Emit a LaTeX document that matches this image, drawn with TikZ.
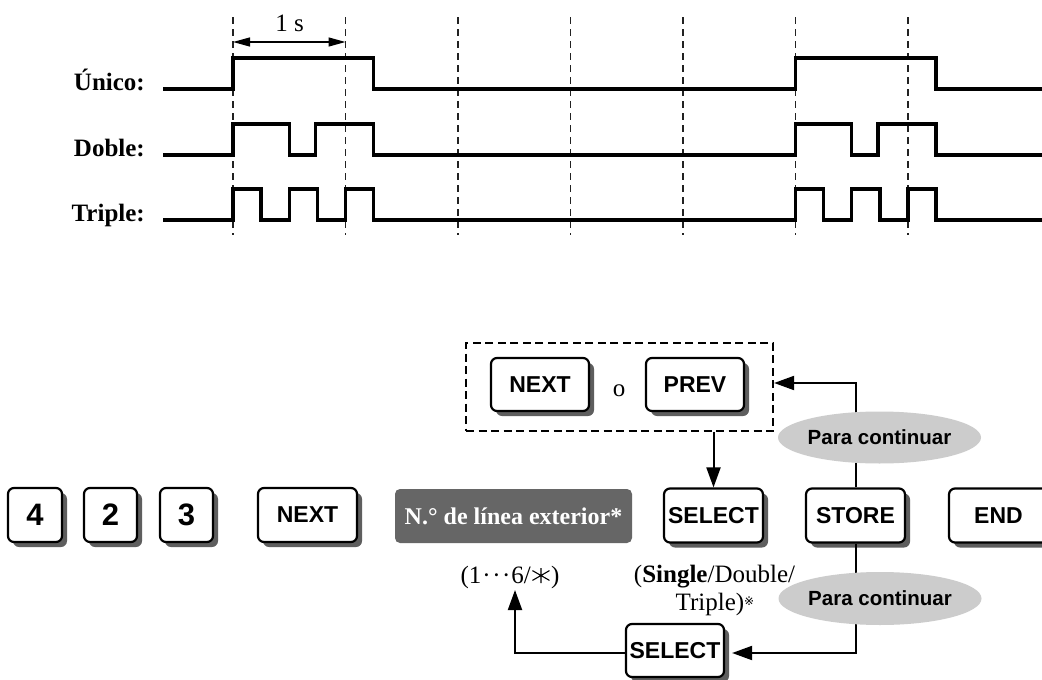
\documentclass[tikz,border=0pt]{standalone}
\usepackage{fontspec}
\setmainfont{Liberation Serif}
\newfontfamily\keyfont{Liberation Sans}
\newfontfamily\symfont{DejaVu Sans}
\usetikzlibrary{arrows.meta,shadows,shapes.geometric}
\definecolor{shadowgray}{HTML}{5E5E5E}
\definecolor{boxgray}{HTML}{666666}
\definecolor{ovalgray}{HTML}{CCCCCC}
\definecolor{gridgray}{HTML}{222222}
\newcommand{\sixstar}{\tikz[baseline=0pt,x=1pt,y=1pt]{\draw[line width=1.1pt] (0,0) -- (0,15) (-8.5,2.6) -- (8.5,12.4) (-8.5,12.4) -- (8.5,2.6);}}
\newcommand{\refmark}{\raisebox{5pt}{\fontsize{12}{12}\selectfont\symfont ※}}
\begin{document}
\begin{tikzpicture}[x=1pt,y=-1pt,
  keybox/.style={draw=black, line width=2.2pt, rounded corners=6pt, fill=white,
    minimum height=54pt, inner sep=0pt,
    font=\keyfont\bfseries\fontsize{23}{23}\selectfont,
    drop shadow={shadow xshift=5pt, shadow yshift=-5pt, fill=shadowgray, opacity=1}},
  digitkey/.style={keybox, minimum width=54pt, font=\keyfont\bfseries\fontsize{31}{31}\selectfont},
  widekey/.style={keybox, minimum width=99pt},
  darkbox/.style={fill=boxgray, rounded corners=5pt, text=white, inner sep=0pt,
    minimum width=237pt, minimum height=54pt, font=\bfseries\fontsize{24}{24}\selectfont},
  ovalnode/.style={ellipse, fill=ovalgray, inner sep=0pt, minimum width=166pt, minimum height=52pt,
    font=\keyfont\bfseries\fontsize{20.5}{20.5}\selectfont},
  conn/.style={line width=2pt, -{Triangle[length=20pt,width=14pt]}},
  gridline/.style={line width=1.1pt, draw=gridgray, dash pattern=on 7pt off 5pt},
  sigline/.style={line width=3.3pt, line join=miter},
  lbl/.style={font=\bfseries\fontsize{25}{25}\selectfont, inner sep=0pt},
  txt/.style={font=\fontsize{25}{25}\selectfont, inner sep=0pt},
  dimarrow/.style={line width=1.3pt, {Triangle[length=17pt,width=9pt]}-{Triangle[length=17pt,width=9pt]}}
]
\fill[white] (0,0) rectangle (1042,680);
\useasboundingbox (0,0) rectangle (1042,680);

% ---------- timing diagram ----------
\foreach \k in {0,...,6}{
  \draw[gridline] ({233+\k*112.5},17) -- ({233+\k*112.5},235);
}
\coordinate (da) at (233,42);
\coordinate (db) at (345.5,42);
\draw[dimarrow] (da) -- (db);
\node[txt, anchor=base] (onesec) at (289.5,31) {1 s};

\node[lbl, anchor=base east] (lU) at (145,90) {Único:};
\node[lbl, anchor=base east] (lD) at (145,156) {Doble:};
\node[lbl, anchor=base east] (lT) at (145,221) {Triple:};

\draw[sigline] (163,89) -- (233,89) -- (233,58) -- (373.6,58) -- (373.6,89)
  -- (795.5,89) -- (795.5,58) -- (936.1,58) -- (936.1,89) -- (1042,89);
\draw[sigline] (163,155) -- (233,155) -- (233,124) -- (289.25,124) -- (289.25,155)
  -- (315.5,155) -- (315.5,124) -- (373.6,124) -- (373.6,155)
  -- (795.5,155) -- (795.5,124) -- (851.75,124) -- (851.75,155)
  -- (878,155) -- (878,124) -- (936.1,124) -- (936.1,155) -- (1042,155);
\draw[sigline] (163,220) -- (233,220) -- (233,189) -- (261.1,189) -- (261.1,220)
  -- (289.25,220) -- (289.25,189) -- (317.4,189) -- (317.4,220)
  -- (345.5,220) -- (345.5,189) -- (373.6,189) -- (373.6,220)
  -- (795.5,220) -- (795.5,189) -- (823.6,189) -- (823.6,220)
  -- (851.75,220) -- (851.75,189) -- (879.9,189) -- (879.9,220)
  -- (908,220) -- (908,189) -- (936.1,189) -- (936.1,220) -- (1042,220);

% ---------- key sequence ----------
\node[digitkey] (k4) at (35,515) {4};
\node[digitkey, minimum width=53pt] (k2) at (110.5,515) {2};
\node[digitkey, minimum width=53pt] (k3) at (186.5,515) {3};
\node[widekey] (kn) at (307.5,515) {NEXT};
\node[darkbox] (ext) at (513.5,516) {N.° de línea exterior*};
\node[widekey] (sel) at (713.5,515.5) {SELECT};
\node[widekey] (sto) at (855.5,515.5) {STORE};
\node[widekey] (endk) at (998.5,515.5) {END};

\node[draw, line width=2.2pt, dash pattern=on 8pt off 4.5pt, minimum width=307pt, minimum height=88pt, inner sep=0pt] (grp) at (619.5,387) {};
\node[widekey, minimum width=98pt, minimum height=53pt] (nx2) at (540,384.5) {NEXT};
\node[txt, anchor=base] (oo) at (619,396) {o};
\node[widekey, minimum width=98pt, minimum height=53pt] (pv) at (695,384.5) {PREV};

\node[widekey, minimum width=98pt, minimum height=53pt] (sel2) at (675,650.5) {SELECT};

\node[txt, anchor=base] (t1) at (510,583) {(1\kern1pt·\kern1.5pt·\kern1.5pt·\kern1pt6/\kern1pt\sixstar\kern1pt)};
\node[txt, anchor=base] (t2a) at (714.5,582) {(\textbf{Single}/Double/};
\node[txt, anchor=base] (t2b) at (715,610) {Triple)\refmark};

\coordinate (ltip) at (515,590);

% connectors
\draw[conn] (grp.south -| sel.north) -- (sel.north);
\draw[conn] (sto.north) |- ([yshift=4pt]grp.east);
\draw[conn, shorten >=7pt] (sto.south) |- ([yshift=-2.5pt]sel2.east);
\draw[conn] ([yshift=-2.5pt]sel2.west) -| (ltip);

% ovals on top of lines
\node[ovalnode] (oA) at (879.5,437.5) {Para continuar};
\node[ovalnode, minimum height=53pt] (oB) at (880,598.5) {Para continuar};
\end{tikzpicture}
\end{document}
